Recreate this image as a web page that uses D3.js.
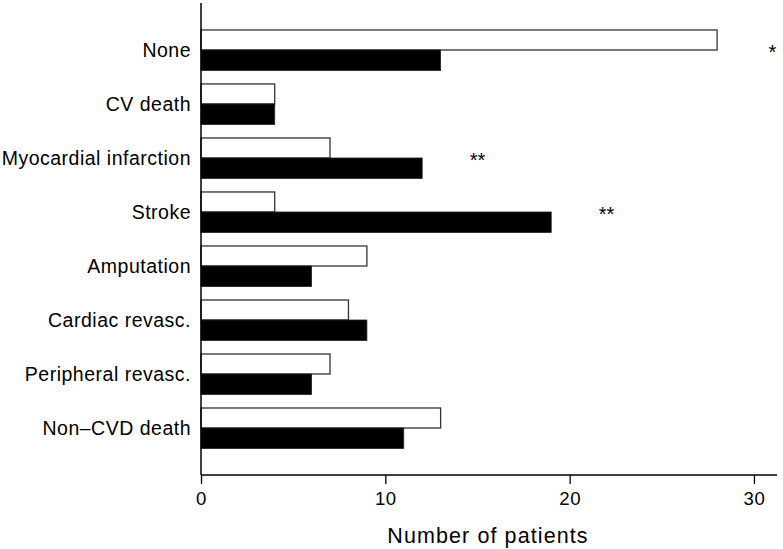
<!DOCTYPE html>
<html>
<head>
<meta charset="utf-8">
<script src="https://cdn.jsdelivr.net/npm/d3@7"></script>
<style>
  html, body { margin: 0; padding: 0; background: #fff; }
  svg { display: block; font-family: "Liberation Sans", Arial, Helvetica, sans-serif; }
</style>
</head>
<body>
<svg id="chart" width="783" height="549"></svg>
<script>
const categories = ["None", "CV death", "Myocardial infarction", "Stroke", "Amputation", "Cardiac revasc.", "Peripheral revasc.", "Non\u2013CVD death"];
const whiteValues = [28, 4, 7, 4, 9, 8, 7, 13];
const blackValues = [13, 4, 12, 19, 6, 9, 6, 11];
const xTicks = [0, 10, 20, 30];
const sigCategories = ["None", "Myocardial infarction", "Stroke"];
const sigLabels = ["*", "**", "**"];
const sigX = [31, 15, 22];
const xTitle = "Number of patients";

const svg = d3.select("#chart");
const x = d3.scaleLinear().domain([0, 31.25]).range([201, 777]);
const y = d3.scaleBand().domain(categories).range([3, 475]).paddingInner(0.24).paddingOuter(0.49);
const bh = y.bandwidth() / 2;

// white bars
svg.append("g").selectAll("rect").data(categories).join("rect")
  .attr("x", x(0))
  .attr("y", d => y(d) + 0.5)
  .attr("width", (d, i) => x(whiteValues[i]) - x(0))
  .attr("height", bh - 0.5)
  .attr("fill", "#fff")
  .attr("stroke", "#333")
  .attr("stroke-width", 1.3);

// black bars
svg.append("g").selectAll("rect").data(categories).join("rect")
  .attr("x", x(0))
  .attr("y", d => y(d) + bh)
  .attr("width", (d, i) => x(blackValues[i]) - x(0))
  .attr("height", bh)
  .attr("fill", "#000")
  .attr("stroke", "#222")
  .attr("stroke-width", 0.8);

// x axis
const xAxis = svg.append("g")
  .attr("transform", "translate(0,475)")
  .call(d3.axisBottom(x).tickValues(xTicks).tickSize(9).tickPadding(8).tickSizeOuter(0));
xAxis.select(".domain").attr("stroke", "#000").attr("stroke-width", 1.5).attr("d", `M${x.range()[0]},0H${x.range()[1]}`);
xAxis.selectAll(".tick line").attr("stroke", "#000").attr("stroke-width", 1.3);
xAxis.selectAll(".tick text")
  .attr("fill", "#000")
  .attr("font-size", "18.6px")
  .attr("letter-spacing", "0.6px")
  .attr("font-family", "'Liberation Sans', Arial, sans-serif");

// y axis line
svg.append("line")
  .attr("x1", x(0)).attr("x2", x(0))
  .attr("y1", 3).attr("y2", 475)
  .attr("stroke", "#000").attr("stroke-width", 1.5);

// category labels
svg.append("g").selectAll("text").data(categories).join("text")
  .attr("x", 191)
  .attr("y", d => y(d) + y.bandwidth() / 2)
  .attr("dy", "0.35em")
  .attr("text-anchor", "end")
  .attr("font-size", "19.5px")
  .attr("letter-spacing", "0.5px")
  .attr("fill", "#000")
  .text(d => d);

// significance marks
svg.append("g").selectAll("text").data(sigCategories).join("text")
  .attr("x", (d, i) => x(sigX[i]))
  .attr("y", d => y(d) + y.bandwidth() / 2 - 2 + 11)
  .attr("text-anchor", "middle")
  .attr("font-size", "20px")
  .attr("fill", "#000")
  .text((d, i) => sigLabels[i]);

// x title
svg.append("text")
  .attr("x", (x.range()[0] + x.range()[1]) / 2 - 1)
  .attr("y", 542.7)
  .attr("text-anchor", "middle")
  .attr("font-size", "21.5px")
  .attr("letter-spacing", "1.1px")
  .attr("fill", "#000")
  .text(xTitle);
</script>
</body>
</html>
